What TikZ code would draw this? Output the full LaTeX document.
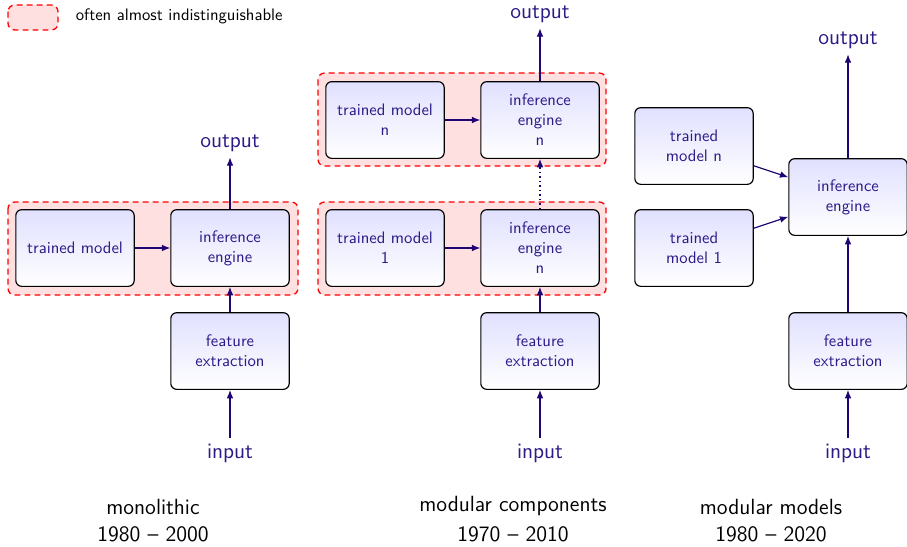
\documentclass[tikz,border=0pt]{standalone}
\usetikzlibrary{arrows.meta}

\definecolor{inkblue}{RGB}{45,25,135}
\definecolor{arrblue}{RGB}{30,5,115}

\tikzset{
  box/.style={draw=black, line width=0.7pt, rounded corners=3.5pt,
    top color=blue!12, bottom color=white,
    minimum width=71pt, minimum height=46pt, align=center,
    text=inkblue, font=\sffamily},
  group/.style={draw=red, dashed, dash pattern=on 3.5pt off 2.5pt,
    line width=0.8pt, fill=red!12, rounded corners=4pt},
  label/.style={text=inkblue, font=\sffamily\fontsize{13.2}{16}\selectfont},
  caption/.style={font=\sffamily\fontsize{13.2}{16}\selectfont},
  arr/.style={draw=arrblue, line width=0.7pt, -{Latex[length=5pt,width=4pt]}}
}

\begin{document}
\begin{tikzpicture}[x=0.6pt,y=-0.6pt]
\useasboundingbox (0,0) rectangle (907,546);

% --- legend
\draw[group] (8,5) rectangle (58,30);
\node[right,font=\sffamily] (legend) at (70,16) {often almost indistinguishable};

% --- red groups (drawn first, boxes go on top)
\draw[group] (8,202) rectangle (298,295);
\draw[group] (318,73) rectangle (606,166);
\draw[group] (318,202) rectangle (606,295);

% ---- monolithic
\node[box] (tm) at (75,248) {trained model};
\node[box] (ie) at (230,248) {inference\\engine};
\node[box] (fe) at (230,351) {feature\\extraction};
\node[label] (out) at (230,143) {output};
\node[label] (in) at (230,453) {input};

\draw[arr] (tm) -- (ie);
\draw[arr] (fe) -- (ie);
\draw[arr] (ie) -- (out);
\draw[arr] (in) -- (fe);

% ---- modular components
\node[box] (tmn) at (385,120) {trained model\\n};
\node[box] (ien) at (540,120) {inference\\engine\\n};
\node[box] (tmo) at (385,248) {trained model\\1};
\node[box] (ieo) at (540,248) {inference\\engine\\n};
\node[box] (fec) at (540,351) {feature\\extraction};
\node[label] (outc) at (540,14) {output};
\node[label] (inc) at (540,453) {input};

\draw[arr] (tmn) -- (ien);
\draw[arr] (tmo) -- (ieo);
\draw[arr,dotted] (ieo) -- (ien);
\draw[arr] (fec) -- (ieo);
\draw[arr] (ien) -- (outc);
\draw[arr] (inc) -- (fec);

% ---- modular models
\node[box] (mn) at (694,146) {trained\\model n};
\node[box] (mo) at (694,248) {trained\\model 1};
\node[box] (iem) at (848,197) {inference\\engine};
\node[box] (fem) at (848,351) {feature\\extraction};
\node[label] (outm) at (848,40) {output};
\node[label] (inm) at (848,453) {input};

\draw[arr] (mn) -- (iem);
\draw[arr] (mo) -- (iem);
\draw[arr] (fem) -- (iem);
\draw[arr] (iem) -- (outm);
\draw[arr] (inm) -- (fem);

% --- captions
\node[caption] (c1) at (153,507) {monolithic};
\node[caption] (y1) at (153,534) {1980 -- 2000};
\node[caption] (c2) at (513,506) {modular components};
\node[caption] (y2) at (513,534) {1970 -- 2010};
\node[caption] (c3) at (771,507) {modular models};
\node[caption] (y3) at (771,534) {1980 -- 2020};
\end{tikzpicture}
\end{document}
